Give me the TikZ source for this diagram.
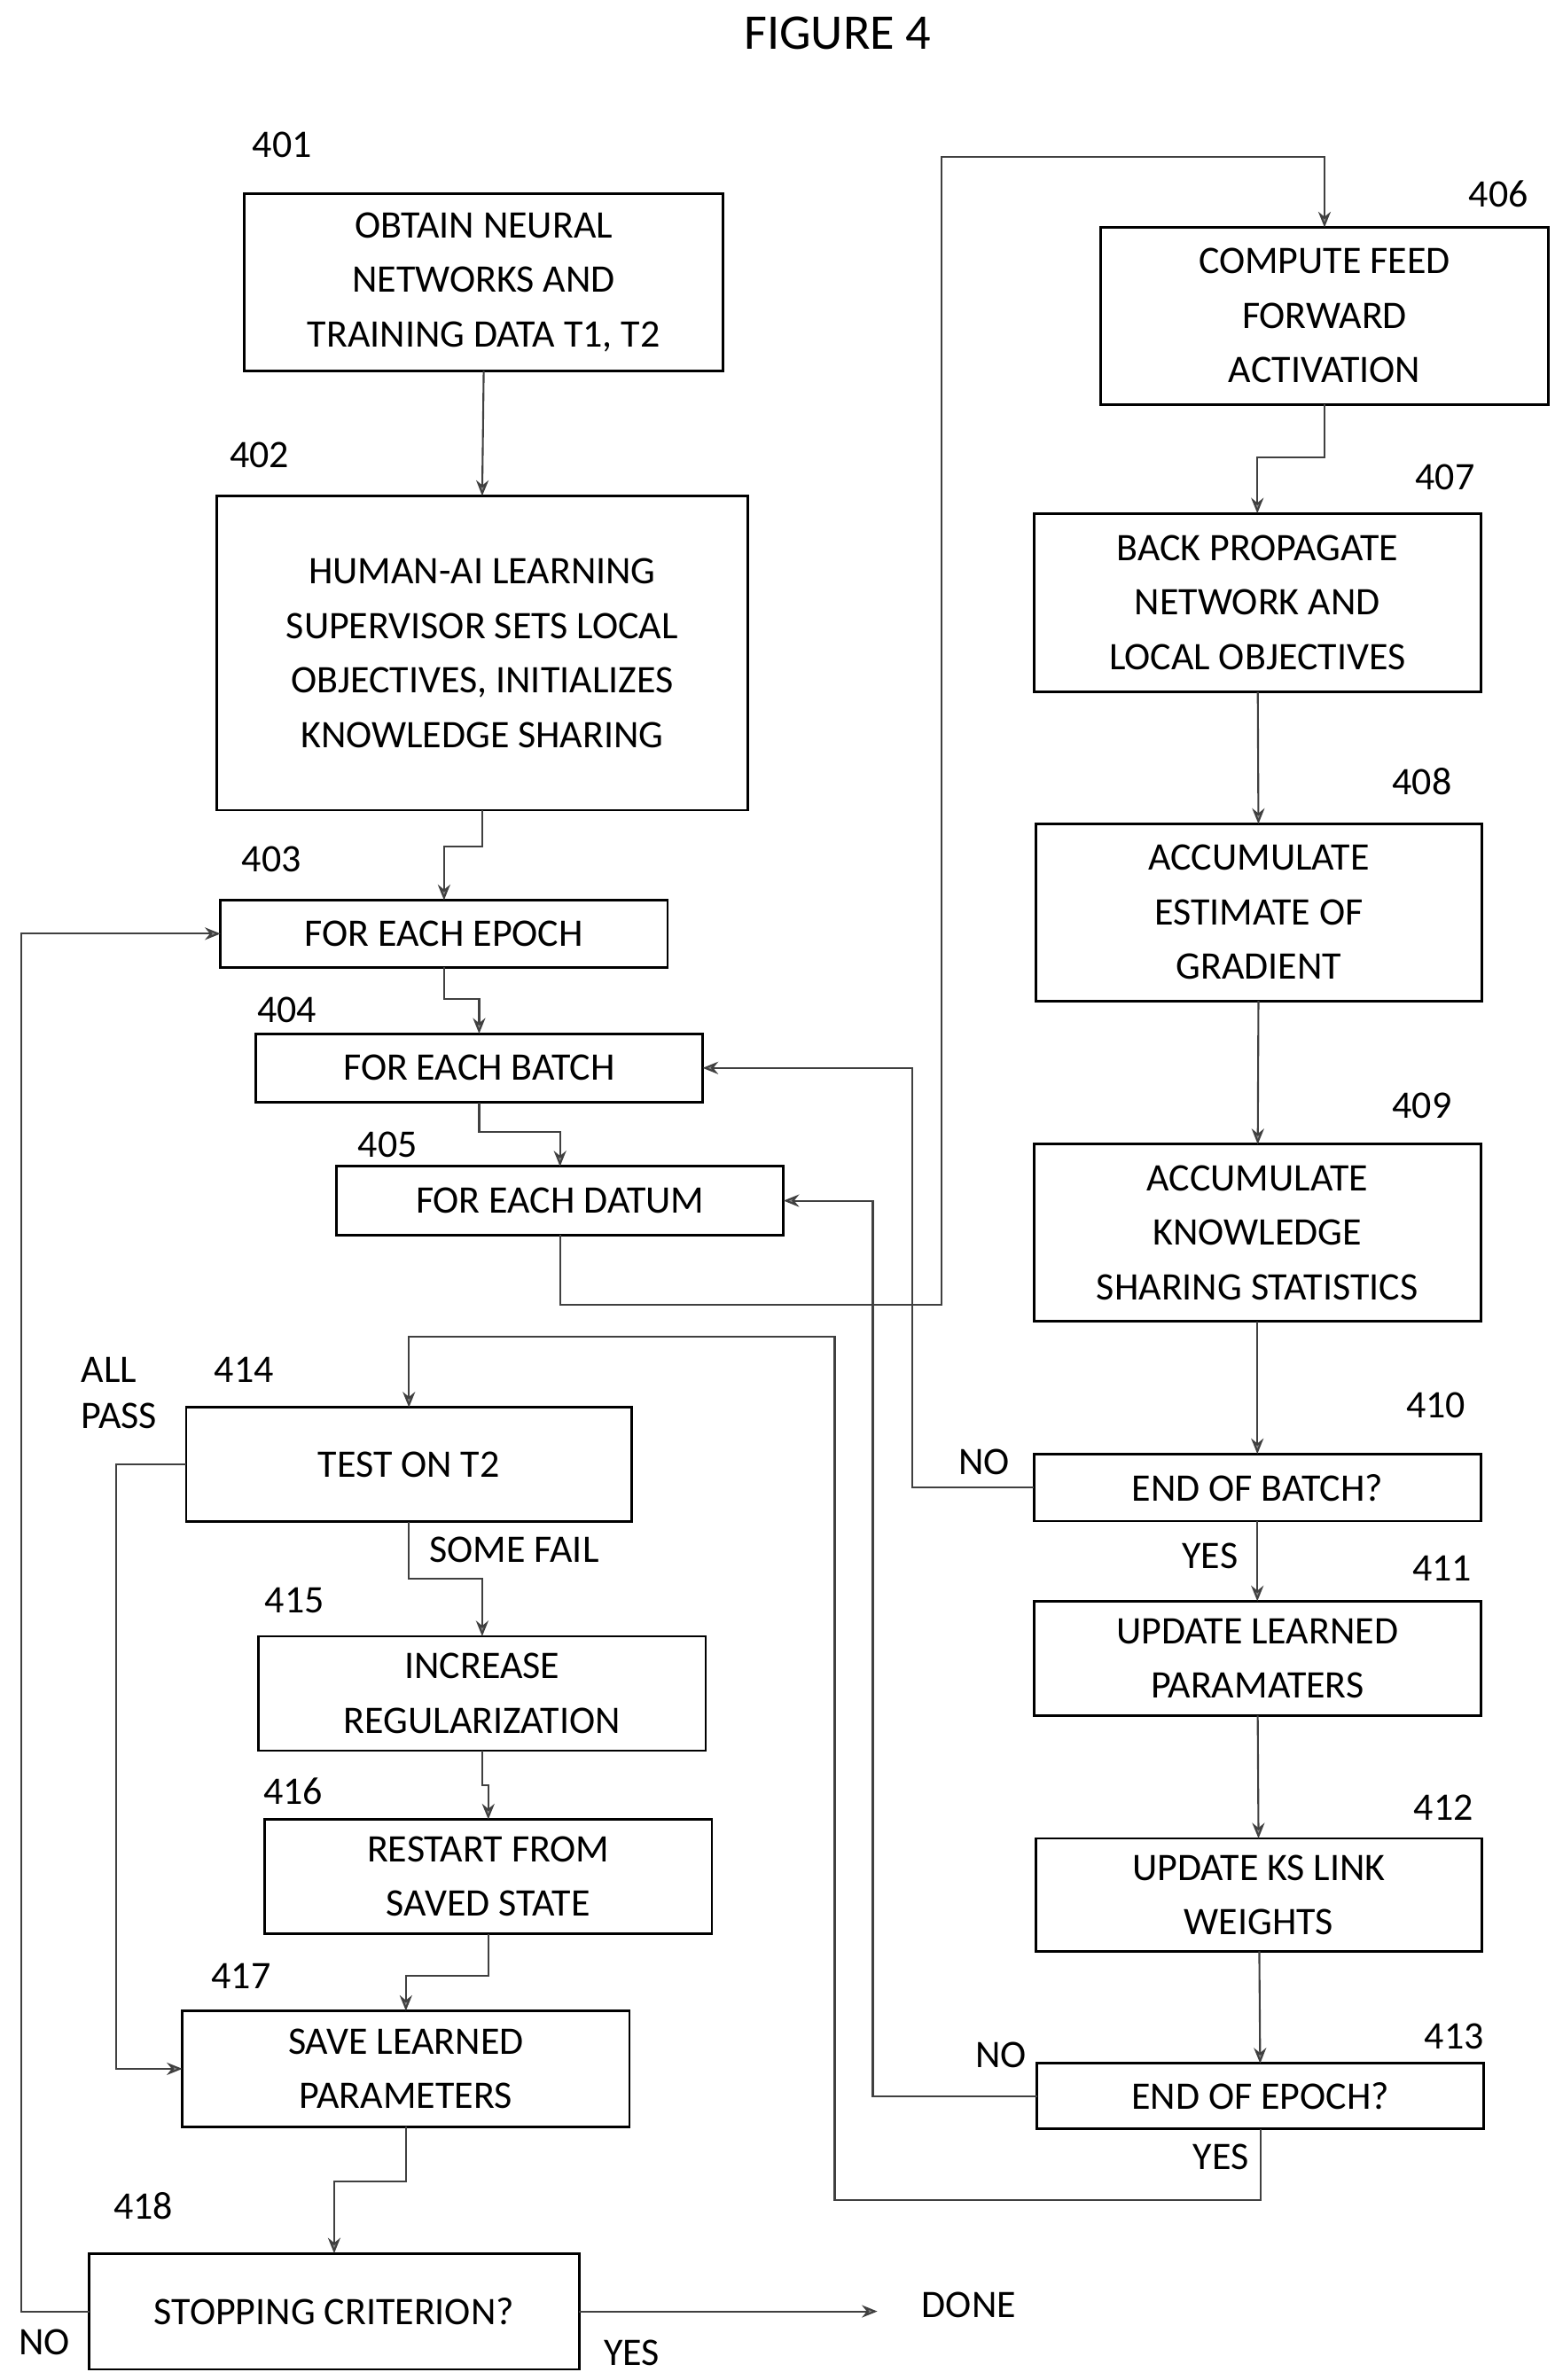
\documentclass[tikz,border=0pt]{standalone}
\usepackage{fontspec}
\setmainfont{Carlito}
\usetikzlibrary{arrows.meta}
\begin{document}
\begin{tikzpicture}[x=0.0172cm,y=-0.0172cm,
  box/.style={draw,line width=0.8pt,align=center,inner sep=0pt,outer sep=0pt,font=\fontsize{12.5}{17.5}\selectfont},
  lbl/.style={font=\fontsize{12.5}{15}\selectfont},
  conn/.style={line width=0.6pt,draw=black!75,-{Stealth[length=5pt,width=4pt,fill=black!45]}}]
\useasboundingbox (0,0) rectangle (1024,1560);

\node [lbl,font=\fontsize{16}{18}\selectfont] (fig) at (549,22) {FIGURE 4};

% left column
\node (s401) [box,minimum width=314*0.0172cm,minimum height=116*0.0172cm] at (317,185) {OBTAIN NEURAL\\NETWORKS AND\\TRAINING DATA T1, T2};
\node (s402) [box,minimum width=348*0.0172cm,minimum height=206*0.0172cm] at (316,428) {HUMAN-AI LEARNING\\SUPERVISOR SETS LOCAL\\OBJECTIVES, INITIALIZES\\KNOWLEDGE SHARING};
\node (s403) [box,minimum width=293*0.0172cm,minimum height=44*0.0172cm] at (291,612) {FOR EACH EPOCH};
\node (s404) [box,minimum width=293*0.0172cm,minimum height=45*0.0172cm] at (314,700) {FOR EACH BATCH};
\node (s405) [box,minimum width=293*0.0172cm,minimum height=45*0.0172cm] at (367,787) {FOR EACH DATUM};
\node (s414) [box,minimum width=292*0.0172cm,minimum height=75*0.0172cm] at (268,960) {TEST ON T2};
\node (s415) [box,minimum width=293*0.0172cm,minimum height=75*0.0172cm] at (316,1110) {INCREASE\\REGULARIZATION};
\node (s416) [box,minimum width=293*0.0172cm,minimum height=75*0.0172cm] at (320,1230) {RESTART FROM\\SAVED STATE};
\node (s417) [box,minimum width=293*0.0172cm,minimum height=76*0.0172cm] at (266,1356) {SAVE LEARNED\\PARAMETERS};
\node (s418) [box,minimum width=321*0.0172cm,minimum height=76*0.0172cm] at (219,1515) {STOPPING CRITERION?};

% right column
\node (s406) [box,minimum width=293*0.0172cm,minimum height=116*0.0172cm] at (868,207) {COMPUTE FEED\\FORWARD\\ACTIVATION};
\node (s407) [box,minimum width=293*0.0172cm,minimum height=117*0.0172cm] at (824,395) {BACK PROPAGATE\\NETWORK AND\\LOCAL OBJECTIVES};
\node (s408) [box,minimum width=292*0.0172cm,minimum height=116*0.0172cm] at (825,598) {ACCUMULATE\\ESTIMATE OF\\GRADIENT};
\node (s409) [box,minimum width=293*0.0172cm,minimum height=116*0.0172cm] at (824,808) {ACCUMULATE\\KNOWLEDGE\\SHARING STATISTICS};
\node (s410) [box,minimum width=293*0.0172cm,minimum height=44*0.0172cm] at (824,975) {END OF BATCH?};
\node (s411) [box,minimum width=293*0.0172cm,minimum height=75*0.0172cm] at (824,1087) {UPDATE LEARNED\\PARAMATERS};
\node (s412) [box,minimum width=292*0.0172cm,minimum height=74*0.0172cm] at (825,1242) {UPDATE KS LINK\\WEIGHTS};
\node (s413) [box,minimum width=293*0.0172cm,minimum height=43*0.0172cm] at (826,1374) {END OF EPOCH?};

% reference numbers
\node [lbl] (n401) at (185,95) {401};
\node [lbl] (n402) at (170,298) {402};
\node [lbl] (n403) at (178,563) {403};
\node [lbl] (n404) at (188,662) {404};
\node [lbl] (n405) at (254,750) {405};
\node [lbl] (n406) at (982,127) {406};
\node [lbl] (n407) at (947,313) {407};
\node [lbl] (n408) at (932,512) {408};
\node [lbl] (n409) at (932,725) {409};
\node [lbl] (n410) at (941,921) {410};
\node [lbl] (n411) at (945,1028) {411};
\node [lbl] (n412) at (946,1185) {412};
\node [lbl] (n413) at (953,1335) {413};
\node [lbl] (n414) at (160,898) {414};
\node [lbl] (n415) at (193,1049) {415};
\node [lbl] (n416) at (192,1174) {416};
\node [lbl] (n417) at (158,1295) {417};
\node [lbl] (n418) at (94,1446) {418};

% branch labels
\node [lbl,align=left] (allpass) at (78,913) {ALL\\PASS};
\node [lbl] (somefail) at (337,1016) {SOME FAIL};
\node [lbl] (no410) at (645,958) {NO};
\node [lbl] (yes410) at (793,1020) {YES};
\node [lbl] (no413) at (656,1347) {NO};
\node [lbl] (yes413) at (800,1414) {YES};
\node [lbl] (done) at (635,1511) {DONE};
\node [lbl] (no418) at (29,1535) {NO};
\node [lbl] (yes418) at (414,1542) {YES};

% connectors
\draw [conn] (s401.south) -- (s402.north);
\draw [conn] (s402.south) |- (291,555) -- (s403.north);
\draw [conn] (s403.south) |- (314,655) -- (s404.north);
\draw [conn] (s404.south) |- (367,742) -- (s405.north);
\draw [conn] (s405.south) |- (617,855) -- (617,103) -| (s406.north);
\draw [conn] (s406.south) |- (824,300) -- (s407.north);
\draw [conn] (s407) -- (s408);
\draw [conn] (s408) -- (s409);
\draw [conn] (s409) -- (s410);
\draw [conn] (s410.west) -| (598,700) -- (s404.east);
\draw [conn] (s410) -- (s411);
\draw [conn] (s411) -- (s412);
\draw [conn] (s412) -- (s413);
\draw [conn] (s413.west) -| (572,787) -- (s405.east);
\draw [conn] (s413.south) |- (547,1442) -- (547,876) -| (s414.north);
\draw [conn] (s414.south) |- (316,1035) -- (s415.north);
\draw [conn] (s414.west) -| (76,1356) -- (s417.west);
\draw [conn] (s415.south) |- (320,1170) -- (s416.north);
\draw [conn] (s416.south) |- (266,1295) -- (s417.north);
\draw [conn] (s417.south) |- (219,1430) -- (s418.north);
\draw [conn] (s418.west) -| (14,612) -- (s403.west);
\coordinate (doneend) at (575,1515);
\draw [conn] (s418.east) -- (doneend);
\end{tikzpicture}
\end{document}
